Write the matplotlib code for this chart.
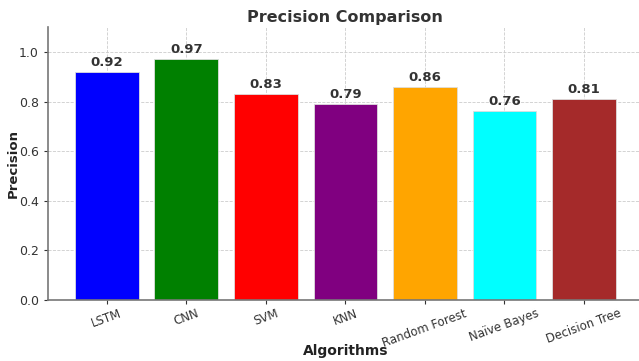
import matplotlib.pyplot as plt

algorithms = ["LSTM", "CNN", "SVM", "KNN", "Random Forest", "Naïve Bayes", "Decision Tree"]
precision = [0.92, 0.97, 0.83, 0.79, 0.86, 0.76, 0.81]
colors = ["blue", "green", "red", "purple", "orange", "cyan", "brown"]

plt.rcParams["text.color"] = "#333333"
plt.rcParams["axes.labelcolor"] = "#222222"

fig = plt.figure(figsize=(6.39, 3.61), dpi=100)
ax = fig.add_axes([0.075, 0.169, 0.931, 0.756])

bars = ax.bar(algorithms, precision, color=colors, width=0.8, edgecolor="#dddddd", linewidth=0.6, zorder=2)
for bar, v in zip(bars, precision):
    ax.text(bar.get_x() + bar.get_width() / 2, v + 0.012, f"{v:.2f}",
            ha="center", va="bottom", fontsize=9.5, fontweight="bold", color="#333333")

ax.set_ylim(0, 1.1)
ax.set_yticks([0.0, 0.2, 0.4, 0.6, 0.8, 1.0])
ax.grid(True, linestyle="--", color="#cccccc", linewidth=0.6, zorder=0)
ax.set_axisbelow(True)
for s in ["top", "right"]:
    ax.spines[s].set_visible(False)
for s in ["left", "bottom"]:
    ax.spines[s].set_color("#777777")
    ax.spines[s].set_linewidth(1.2)
ax.tick_params(axis="both", labelsize=9, colors="#333333", length=3)
ax.tick_params(axis="x", labelsize=8.5, pad=2)
plt.setp(ax.get_xticklabels(), rotation=20, ha="center")

ax.set_title("Precision Comparison", fontsize=11.5, fontweight="bold", color="#333333", pad=4)
ax.set_ylabel("Precision", fontsize=9.5, fontweight="bold")
ax.yaxis.set_label_coords(-0.047, 0.5)
ax.set_xlabel("Algorithms", fontsize=10, fontweight="bold")
ax.xaxis.set_label_coords(0.5, -0.16)

fig.savefig("out.png", dpi=100)
